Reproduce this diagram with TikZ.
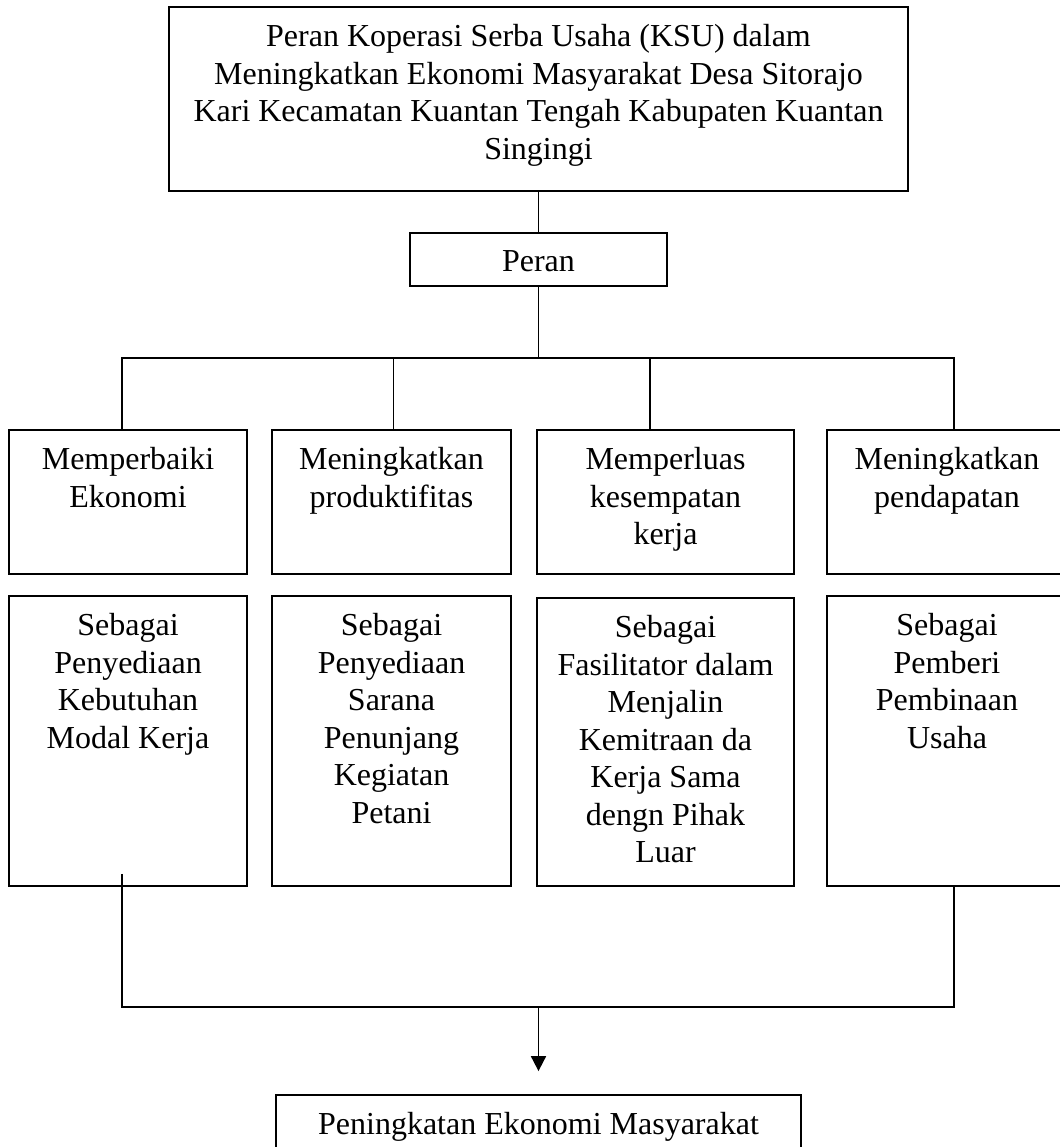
\documentclass[tikz,border=0pt]{standalone}
\usepackage{fontspec}
\setmainfont{Liberation Serif}
\usetikzlibrary{arrows.meta,calc}

\begin{document}
\begin{tikzpicture}[x=0.5pt,y=-0.5pt,
    kotak/.style={draw, line width=0.9pt, inner sep=0pt},
    isi/.style={anchor=north, align=center, inner sep=9pt},
    garis/.style={line width=0.9pt}]
    \fontsize{16}{18.75}\selectfont
    \useasboundingbox (0,0) rectangle (1060,1147);
    \clip (0,0) rectangle (1060,1147);

    % judul dan peran
    \node [kotak, minimum width=369.5pt, minimum height=92pt,
      label={[isi]north:Peran Koperasi Serba Usaha (KSU) dalam\\Meningkatkan Ekonomi Masyarakat Desa Sitorajo\\Kari Kecamatan Kuantan Tengah Kabupaten Kuantan\\Singingi}]
      (judul) at (538.5,99) {};
    \node [kotak, minimum width=128.5pt, minimum height=26.5pt,
      label={[isi]north:Peran}] (peran) at (538.5,259.5) {};

    % baris pertama
    \node [kotak, minimum width=119pt, minimum height=72pt,
      label={[isi]north:Memperbaiki\\Ekonomi}] (perbaiki) at (128,502) {};
    \node [kotak, minimum width=119.5pt, minimum height=72pt,
      label={[isi]north:Meningkatkan\\produktifitas}] (produktif) at (391.5,502) {};
    \node [kotak, minimum width=128.5pt, minimum height=72pt,
      label={[isi]north:Memperluas\\kesempatan\\kerja}] (perluas) at (665.5,502) {};
    \node [kotak, minimum width=120pt, minimum height=72pt,
      label={[isi]north:Meningkatkan\\pendapatan}] (pendapatan) at (947,502) {};

    % baris kedua
    \node [kotak, minimum width=119pt, minimum height=145pt,
      label={[isi]north:Sebagai\\Penyediaan\\Kebutuhan\\Modal Kerja}] (modal) at (128,741) {};
    \node [kotak, minimum width=119.5pt, minimum height=145pt,
      label={[isi]north:Sebagai\\Penyediaan\\Sarana\\Penunjang\\Kegiatan\\Petani}] (sarana) at (391.5,741) {};
    \node [kotak, minimum width=128.5pt, minimum height=144pt,
      label={[isi]north:Sebagai\\Fasilitator dalam\\Menjalin\\Kemitraan da\\Kerja Sama\\dengn Pihak\\Luar}] (mitra) at (665.5,742) {};
    \node [kotak, minimum width=120pt, minimum height=145pt,
      label={[isi]north:Sebagai\\Pemberi\\Pembinaan\\Usaha}] (bina) at (947,741) {};

    \node [kotak, minimum width=262.5pt, minimum height=45pt,
      label={[isi]north:Peningkatan Ekonomi Masyarakat}] (hasil) at (538.5,1140) {};

    \coordinate (cabang) at (538.5,358);
    \coordinate (gabung) at (538.5,1007);

    \draw [garis] (judul) -- (peran);
    \draw [garis] (peran) -- (cabang);
    \draw [garis] ($(perbaiki.north)+(-6,0)$) |- (cabang);
    \draw [garis] ($(produktif.north)+(2,0)$) |- (cabang);
    \draw [garis] ($(perluas.north)+(-15.5,0)$) |- (cabang);
    \draw [garis] ($(pendapatan.north)+(7,0)$) |- (cabang);

    \draw [garis] ($(modal.south)+(-6,-13)$) |- (gabung);
    \draw [garis] ($(bina.south)+(7,0)$) |- (gabung);
    \draw [garis, -{Triangle[width=7.5pt,length=7.5pt]}, shorten >=11.5pt] (gabung) -- (hasil.north);
\end{tikzpicture}
\end{document}
